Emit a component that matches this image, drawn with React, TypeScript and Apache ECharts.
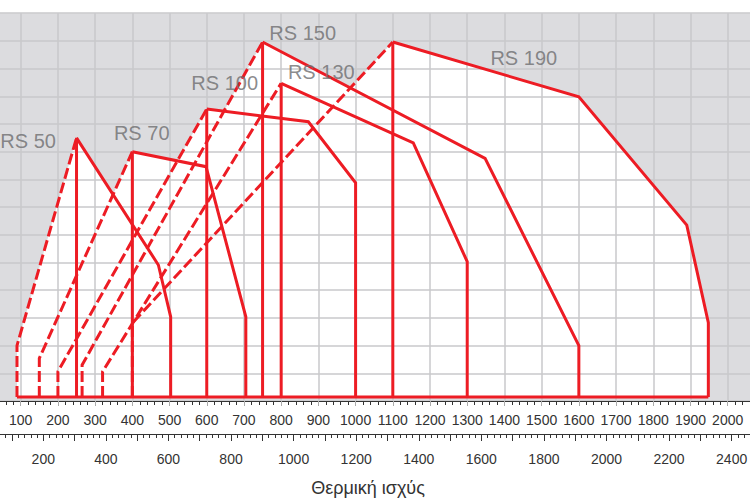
import React, { useEffect, useRef } from 'react';
import * as echarts from 'echarts';

// ---- data (top axis units, y in grid units) ----
const BASE = 0.144;
const BURNERS = ['RS 50', 'RS 70', 'RS 100', 'RS 130', 'RS 150', 'RS 190'];

// dashed minimum-output boundary (from start up to peak)
const RS50_MIN = [[90, BASE], [90, 2.0], [250, 9.5]];
const RS70_MIN = [[150, BASE], [150, 1.54], [400, 9.0]];
const RS100_MIN = [[200, BASE], [200, 1.06], [600, 10.54]];
const RS130_MIN = [[320, BASE], [320, 1.06], [800, 11.47]];
const RS150_MIN = [[265, BASE], [265, 1.3], [750, 12.96]];
const RS190_MIN = [[400, BASE], [400, 2.81], [1100, 12.96]];

// solid maximum-output boundary (from peak down to the base)
const RS50_MAX = [[250, 9.5], [470, 4.91], [503, 3.04], [503, BASE]];
const RS70_MAX = [[400, 9.0], [598, 8.46], [705, 3.04], [705, BASE]];
const RS100_MAX = [[600, 10.54], [873, 10.08], [1000, 7.88], [1000, BASE]];
const RS130_MAX = [[800, 11.47], [1155, 9.32], [1300, 5.03], [1300, BASE]];
const RS150_MAX = [[750, 12.96], [1348, 8.76], [1600, 2.0], [1600, BASE]];
const RS190_MAX = [[1100, 12.96], [1600, 10.98], [1890, 6.35], [1948, 2.83], [1948, BASE]];

const MIN_LINES = [RS50_MIN, RS70_MIN, RS100_MIN, RS130_MIN, RS150_MIN, RS190_MIN];
const MAX_LINES = [RS50_MAX, RS70_MAX, RS100_MAX, RS130_MAX, RS150_MAX, RS190_MAX];

const LABEL_X = [120, 425.2, 648.2, 907.8, 857.8, 1452];
const LABEL_Y = [9.38, 9.66, 11.47, 11.87, 13.27, 12.4];

const TOP_LABELS = [100, 200, 300, 400, 500, 600, 700, 800, 900, 1000, 1100, 1200, 1300, 1400, 1500, 1600, 1700, 1800, 1900, 2000];
const BOTTOM_LABELS = [200, 400, 600, 800, 1000, 1200, 1400, 1600, 1800, 2000, 2200, 2400];
const X_TITLE = 'Θερμική ισχύς';

const RED = '#ed1c24';
const FONT = '"Liberation Sans", Arial, sans-serif';

export default function App() {
  const ref = useRef<HTMLDivElement>(null);

  useEffect(() => {
    if (!ref.current) return;
    const chart = echarts.init(ref.current, undefined, { renderer: 'svg' });

    const outlines = MIN_LINES.map((m, i) => m.concat(MAX_LINES[i].slice(1)));
    const xStart = Math.min(...MIN_LINES.map((m) => m[0][0]));
    const xEnd = Math.max(...MAX_LINES.map((m) => m[m.length - 1][0]));

    const lineSeries: any[] = [];
    MIN_LINES.forEach((m, i) => {
      lineSeries.push({
        type: 'line', name: BURNERS[i] + ' min', xAxisIndex: 0, yAxisIndex: 0,
        data: m, symbol: 'none', z: 3, silent: true,
        lineStyle: { color: RED, width: 3, type: [11, 4], join: 'miter' },
      });
    });
    MAX_LINES.forEach((m, i) => {
      const peak = m[0];
      lineSeries.push({
        type: 'line', name: BURNERS[i] + ' max', xAxisIndex: 0, yAxisIndex: 0,
        data: m, symbol: 'none', z: 3, silent: true,
        lineStyle: { color: RED, width: 3, type: 'solid', join: 'miter' },
      });
      lineSeries.push({
        type: 'line', name: BURNERS[i] + ' split', xAxisIndex: 0, yAxisIndex: 0,
        data: [[peak[0], BASE], [peak[0], peak[1]]], symbol: 'none', z: 3, silent: true,
        lineStyle: { color: RED, width: 3, type: 'solid' },
      });
    });
    lineSeries.push({
      type: 'line', name: 'base', xAxisIndex: 0, yAxisIndex: 0,
      data: [[xStart, BASE], [xEnd, BASE]], symbol: 'none', z: 3, silent: true,
      lineStyle: { color: RED, width: 3, type: 'solid' },
    });

    const option: any = {
      animation: false,
      textStyle: { fontFamily: FONT },
      grid: [
        {
          left: -16.5, right: -14.9, top: 13.2, bottom: 99,
          show: true, backgroundColor: '#dcdcdf', borderWidth: 0,
          containLabel: false, outerBoundsMode: 'none',
        },
        {
          left: -19.3, right: -12.95, top: 433, bottom: 66,
          show: false, containLabel: false, outerBoundsMode: 'none',
        },
      ],
      xAxis: [
        {
          type: 'value', gridIndex: 0, position: 'bottom', min: 0, max: 2100, interval: 100, z: 2,
          axisLine: { show: true, onZero: false, lineStyle: { color: '#333', width: 1 } },
          axisTick: { show: true, length: 5, lineStyle: { color: '#aaa', width: 1 } },
          minorTick: { show: true, splitNumber: 5, length: 4, lineStyle: { color: '#333', width: 1 } },
          axisLabel: {
            show: true, margin: 12, color: '#333', fontSize: 14, fontFamily: FONT,
            formatter: (v: number) => (TOP_LABELS.includes(Math.round(v)) ? String(Math.round(v)) : ''),
          },
          splitLine: { show: true, lineStyle: { color: '#c8c8cb', width: 1.5 } },
        },
        {
          type: 'value', gridIndex: 1, position: 'bottom', min: 0, max: 2500, interval: 100, z: 2,
          axisLine: { show: true, onZero: false, lineStyle: { color: '#333', width: 1 } },
          axisTick: { show: true, length: 7, lineStyle: { color: '#333', width: 1 } },
          minorTick: { show: true, splitNumber: 5, length: 4, lineStyle: { color: '#333', width: 1 } },
          axisLabel: {
            show: true, margin: 18, color: '#333', fontSize: 14, fontFamily: FONT,
            formatter: (v: number) => (BOTTOM_LABELS.includes(Math.round(v)) ? String(Math.round(v)) : ''),
          },
          splitLine: { show: false },
        },
      ],
      yAxis: [
        {
          type: 'value', gridIndex: 0, min: 0, max: 14, interval: 1, z: 2,
          axisLine: { show: false }, axisTick: { show: false }, axisLabel: { show: false },
          splitLine: { show: true, lineStyle: { color: '#c8c8cb', width: 1.5 } },
        },
        {
          type: 'value', gridIndex: 1, min: 0, max: 1, show: false,
        },
      ],
      graphic: [
        {
          type: 'text', x: 368, y: 488, silent: true,
          style: {
            text: X_TITLE, font: '18px ' + FONT, fill: '#333',
            textAlign: 'center', textVerticalAlign: 'middle', align: 'center', verticalAlign: 'middle',
          },
        },
      ],
      series: [
        {
          type: 'custom', name: 'ranges', xAxisIndex: 0, yAxisIndex: 0, z: 1, silent: true,
          data: outlines.map((o) => o[0]),
          renderItem: (params: any, api: any) => {
            const pts = outlines[params.dataIndex].map((p) => api.coord(p));
            return { type: 'polygon', shape: { points: pts }, style: { fill: '#ffffff' } };
          },
        },
        ...lineSeries,
        {
          type: 'scatter', name: 'labels', xAxisIndex: 0, yAxisIndex: 0, z: 4, silent: true,
          symbolSize: 1, itemStyle: { color: 'rgba(0,0,0,0)' },
          data: BURNERS.map((b, i) => ({ name: b, value: [LABEL_X[i], LABEL_Y[i]] })),
          label: {
            show: true, position: 'inside', formatter: (p: any) => p.name,
            color: '#6d6d6f', fontSize: 20, fontFamily: FONT,
          },
        },
      ],
    };

    chart.setOption(option);
    return () => chart.dispose();
  }, []);

  return (
    <div
      ref={ref}
      style={{ position: 'absolute', left: 0, top: 0, width: 750, height: 500, background: '#fff' }}
    />
  );
}
